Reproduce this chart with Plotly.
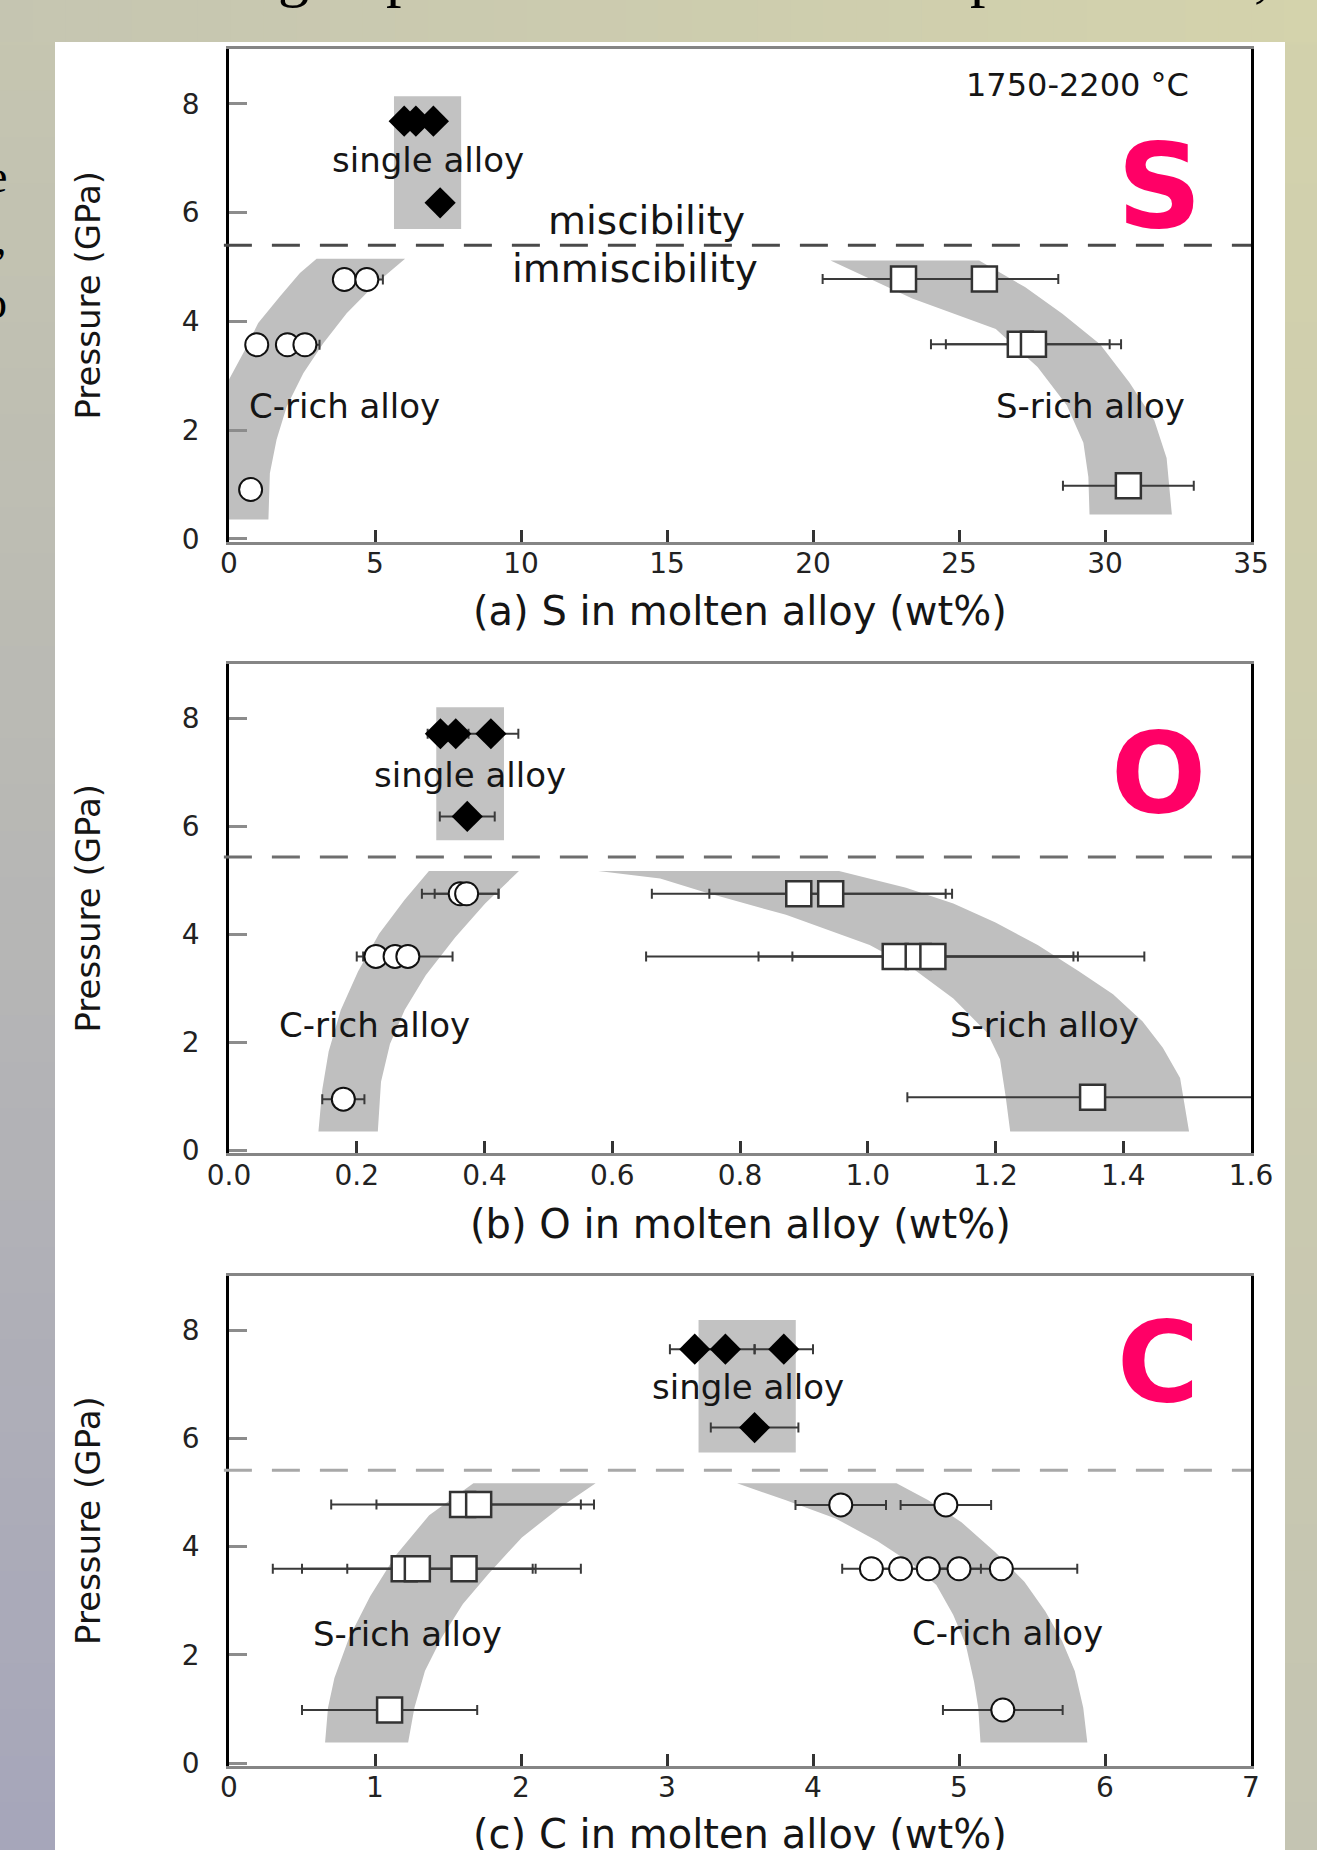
import plotly.graph_objects as go

W, H = 1317, 1850

# ------------------------------------------------------------------ data
# Panel (a): S in molten alloy
a_single_x = [6.0, 6.4, 7.0, 7.23]
a_single_y = [7.68, 7.68, 7.68, 6.18]
a_crich_x = [3.95, 4.72, 0.95, 2.0, 2.6, 0.74]
a_crich_y = [4.77, 4.77, 3.57, 3.57, 3.57, 0.91]
a_crich_err = [0.0, 0.55, 0.0, 0.0, 0.5, 0.0]
a_srich_x = [23.1, 25.87, 27.1, 27.55, 30.8]
a_srich_y = [4.78, 4.78, 3.58, 3.58, 0.98]
a_srich_err = [2.77, 2.53, 3.06, 3.0, 2.24]
a_rect_x = [5.65, 7.95]
a_rect_y = [5.70, 8.14]
a_band_c_left_x = [0.0, 0.0, 0.55, 1.0, 1.75, 2.43, 3.0]
a_band_c_left_y = [0.36, 2.93, 3.48, 3.97, 4.46, 4.89, 5.15]
a_band_c_right_x = [6.03, 5.06, 4.03, 3.23, 2.55, 1.98, 1.63, 1.40, 1.35]
a_band_c_right_y = [5.15, 4.71, 4.15, 3.6, 3.05, 2.44, 1.83, 1.21, 0.36]
a_band_s_left_x = [20.6, 23.4, 26.26, 27.69, 28.69, 29.26, 29.43, 29.47]
a_band_s_left_y = [5.12, 4.42, 3.86, 3.16, 2.46, 1.77, 1.14, 0.45]
a_band_s_right_x = [25.69, 27.26, 28.54, 29.83, 30.83, 31.69, 32.11, 32.29]
a_band_s_right_y = [5.12, 4.63, 4.14, 3.58, 2.88, 2.18, 1.49, 0.45]
a_boundary = 5.4

# Panel (b): O in molten alloy
b_single_x = [0.331, 0.355, 0.41, 0.373]
b_single_y = [7.71, 7.71, 7.71, 6.18]
b_single_err = [0.02, 0.02, 0.043, 0.043]
b_crich_x = [0.362, 0.372, 0.23, 0.26, 0.28, 0.179]
b_crich_y = [4.75, 4.75, 3.59, 3.59, 3.59, 0.95]
b_crich_err = [0.06, 0.05, 0.03, 0.02, 0.07, 0.033]
b_srich_x = [0.892, 0.942, 1.043, 1.079, 1.102, 1.352]
b_srich_y = [4.75, 4.75, 3.59, 3.59, 3.59, 0.985]
b_srich_err = [0.23, 0.19, 0.39, 0.25, 0.22, 0.29]
b_rect_x = [0.3245, 0.4305]
b_rect_y = [5.74, 8.2]
b_band_c_left_x = [0.313, 0.275, 0.235, 0.202, 0.175, 0.156, 0.146, 0.14]
b_band_c_left_y = [5.17, 4.64, 4.01, 3.31, 2.6, 1.83, 1.13, 0.35]
b_band_c_right_x = [0.233, 0.238, 0.252, 0.275, 0.308, 0.354, 0.401, 0.454]
b_band_c_right_y = [0.35, 1.27, 1.97, 2.6, 3.24, 3.94, 4.57, 5.17]
b_band_s_left_x = [0.578, 0.675, 0.741, 0.872, 1.003, 1.069, 1.134, 1.187, 1.207, 1.216, 1.223]
b_band_s_left_y = [5.17, 5.03, 4.79, 4.36, 3.8, 3.38, 2.81, 2.18, 1.69, 0.99, 0.35]
b_band_s_right_x = [1.503, 1.489, 1.462, 1.43, 1.384, 1.331, 1.266, 1.2, 1.134, 1.06, 0.955]
b_band_s_right_y = [0.35, 1.34, 1.9, 2.39, 2.89, 3.31, 3.8, 4.22, 4.57, 4.86, 5.17]
b_boundary = 5.43

# Panel (c): C in molten alloy
c_single_x = [3.19, 3.40, 3.80, 3.60]
c_single_y = [7.65, 7.65, 7.65, 6.2]
c_single_err = [0.17, 0.2, 0.2, 0.3]
c_srich_x = [1.6, 1.71, 1.2, 1.29, 1.61, 1.1]
c_srich_y = [4.78, 4.78, 3.59, 3.59, 3.59, 0.98]
c_srich_err = [0.9, 0.7, 0.9, 0.79, 0.8, 0.6]
c_crich_x = [4.19, 4.91, 4.40, 4.60, 4.79, 5.00, 5.29, 5.30]
c_crich_y = [4.77, 4.77, 3.59, 3.59, 3.59, 3.59, 3.59, 0.98]
c_crich_err = [0.31, 0.31, 0.2, 0.15, 0.15, 0.15, 0.52, 0.41]
c_rect_x = [3.216, 3.882]
c_rect_y = [5.74, 8.19]
c_band_s_left_x = [1.674, 1.371, 1.14, 0.967, 0.823, 0.722, 0.678, 0.658]
c_band_s_left_y = [5.17, 4.58, 3.83, 3.08, 2.32, 1.57, 1.02, 0.38]
c_band_s_right_x = [1.227, 1.27, 1.342, 1.457, 1.602, 1.775, 2.006, 2.265, 2.511]
c_band_s_right_y = [0.38, 1.02, 1.7, 2.32, 2.94, 3.49, 4.17, 4.72, 5.17]
c_band_c_left_x = [3.48, 3.81, 4.155, 4.443, 4.672, 4.845, 4.96, 5.046, 5.103, 5.132, 5.147]
c_band_c_left_y = [5.17, 4.86, 4.52, 4.1, 3.69, 3.29, 2.74, 2.19, 1.50, 1.02, 0.38]
c_band_c_right_x = [5.879, 5.851, 5.793, 5.707, 5.592, 5.448, 5.247, 5.017, 4.787, 4.572]
c_band_c_right_y = [0.38, 1.02, 1.7, 2.25, 2.8, 3.35, 3.9, 4.45, 4.86, 5.17]
c_boundary = 5.41

x_ranges = [[0, 35], [0, 1.6], [0, 7]]
x_dticks = [5, 0.2, 1]
x_formats = ["d", ".1f", "d"]
x_titles = ["(a) S in molten alloy (wt%)", "(b) O in molten alloy (wt%)", "(c) C in molten alloy (wt%)"]
y_title = "Pressure (GPa)"
y_range = [-0.05, 9]

# ------------------------------------------------------------------ style
BAND = "#bfbfbf"
SANS = "DejaVu Sans"
TXT = "#151515"
PINK = "#ff0066"

fig = go.Figure()


def band(xl, yl, xr, yr, xa, ya):
    fig.add_trace(go.Scatter(x=xl + xr, y=yl + yr, mode="lines", fill="toself",
                             fillcolor=BAND, line=dict(width=0), hoverinfo="skip",
                             showlegend=False, xaxis=xa, yaxis=ya))


def rect(xs, ys, xa, ya):
    fig.add_trace(go.Scatter(x=[xs[0], xs[1], xs[1], xs[0]], y=[ys[0], ys[0], ys[1], ys[1]],
                             mode="lines", fill="toself", fillcolor="#c2c2c2",
                             line=dict(width=0), hoverinfo="skip", showlegend=False,
                             xaxis=xa, yaxis=ya))


def pts(xs, ys, errs, kind, xa, ya):
    if kind == "diamond":
        mk = dict(symbol="diamond", size=24, color="black", line=dict(width=0))
    elif kind == "circle":
        mk = dict(symbol="circle", size=23, color="white", line=dict(color="#111", width=2))
    else:
        mk = dict(symbol="square", size=25, color="white", line=dict(color="#333", width=2.5))
    kw = {}
    if errs is not None:
        kw["error_x"] = dict(type="data", array=errs, color="#3a3a3a", thickness=2, width=5)
    fig.add_trace(go.Scatter(x=xs, y=ys, mode="markers", marker=mk, showlegend=False,
                             xaxis=xa, yaxis=ya, **kw))


# panel (a)
band(a_band_c_left_x, a_band_c_left_y, a_band_c_right_x, a_band_c_right_y, "x", "y")
band(a_band_s_left_x, a_band_s_left_y, a_band_s_right_x[::-1], a_band_s_right_y[::-1], "x", "y")
rect(a_rect_x, a_rect_y, "x", "y")
pts(a_crich_x, a_crich_y, a_crich_err, "circle", "x", "y")
pts(a_srich_x, a_srich_y, a_srich_err, "square", "x", "y")
pts(a_single_x, a_single_y, None, "diamond", "x", "y")

# panel (b)
band(b_band_c_left_x, b_band_c_left_y, b_band_c_right_x, b_band_c_right_y, "x2", "y2")
band(b_band_s_left_x, b_band_s_left_y, b_band_s_right_x, b_band_s_right_y, "x2", "y2")
rect(b_rect_x, b_rect_y, "x2", "y2")
pts(b_crich_x, b_crich_y, b_crich_err, "circle", "x2", "y2")
pts(b_srich_x, b_srich_y, b_srich_err, "square", "x2", "y2")
pts(b_single_x, b_single_y, b_single_err, "diamond", "x2", "y2")

# panel (c)
band(c_band_s_left_x, c_band_s_left_y, c_band_s_right_x, c_band_s_right_y, "x3", "y3")
band(c_band_c_left_x, c_band_c_left_y, c_band_c_right_x, c_band_c_right_y, "x3", "y3")
rect(c_rect_x, c_rect_y, "x3", "y3")
pts(c_srich_x, c_srich_y, c_srich_err, "square", "x3", "y3")
pts(c_crich_x, c_crich_y, c_crich_err, "circle", "x3", "y3")
pts(c_single_x, c_single_y, c_single_err, "diamond", "x3", "y3")

# ------------------------------------------------------------------ layout
x_dom = [229 / W, 1251 / W]
# pixel (from top) of the bottom and top of each plot frame
frames = [(541.7, 49.4), (1153.2, 664.0), (1765.7, 1276.1)]
title_px = [611, 1224, 1834]

layout = dict(width=W, height=H, margin=dict(l=0, r=0, t=0, b=0, pad=0), autosize=False,
              paper_bgcolor="#cdcdb0", plot_bgcolor="white", showlegend=False)

for i, (bot, top) in enumerate(frames):
    sfx = "" if i == 0 else str(i + 1)
    layout["xaxis" + sfx] = dict(
        domain=x_dom, range=x_ranges[i], dtick=x_dticks[i], tick0=0, tickformat=x_formats[i],
        anchor="y" + sfx, showgrid=False, zeroline=False, automargin=False,
        showline=True, linecolor="#858585", linewidth=3, mirror=True,
        ticks="inside", ticklen=12, tickwidth=2.5, tickcolor="#333",
        ticklabelstandoff=-5,
        tickfont=dict(family=SANS, size=28, color="#222"))
    layout["yaxis" + sfx] = dict(
        domain=[1 - bot / H, 1 - top / H], range=y_range, dtick=2, tick0=0,
        anchor="x" + sfx, showgrid=False, zeroline=False, automargin=False,
        showline=True, linecolor="black", linewidth=2.5, mirror=True,
        ticks="inside", ticklen=18, tickwidth=3, tickcolor="#8c8c8c",
        ticklabelstandoff=21,
        tickfont=dict(family=SANS, size=28, color="#222"))

fig.update_layout(**layout)

# ------------------------------------------------------------------ background shapes
shapes = []
# white slide panel
shapes.append(dict(type="rect", xref="paper", yref="paper", x0=55 / W, x1=1285 / W,
                   y0=0, y1=1 - 42 / H, fillcolor="white", line=dict(width=0), layer="below"))


def lerp(c0, c1, t):
    return "rgb(%d,%d,%d)" % tuple(round(a + (b - a) * t) for a, b in zip(c0, c1))


n = 40
for k in range(n):
    t = (k + 0.5) / n
    y0 = 1 - (k + 1) / n
    y1 = 1 - k / n
    shapes.append(dict(type="rect", xref="paper", yref="paper", x0=0, x1=55 / W, y0=y0, y1=y1 + 0.001,
                       fillcolor=lerp((198, 198, 176), (166, 166, 186), t), line=dict(width=0), layer="below"))
    shapes.append(dict(type="rect", xref="paper", yref="paper", x0=1285 / W, x1=1, y0=y0, y1=y1 + 0.001,
                       fillcolor=lerp((211, 210, 172), (196, 196, 178), t), line=dict(width=0), layer="below"))
for k in range(n):
    t = (k + 0.5) / n
    shapes.append(dict(type="rect", xref="paper", yref="paper", x0=k / n, x1=(k + 1) / n + 0.001,
                       y0=1 - 42 / H, y1=1, fillcolor=lerp((197, 197, 177), (212, 211, 172), t),
                       line=dict(width=0), layer="below"))

# miscibility boundaries (dashed)
for i, (yb, col) in enumerate([(a_boundary, "#4a4a4a"), (b_boundary, "#6e6e6e"), (c_boundary, "#a8a8a8")]):
    sfx = "" if i == 0 else str(i + 1)
    shapes.append(dict(type="line", xref="x" + sfx + " domain", yref="y" + sfx,
                       x0=-0.005, x1=1, y0=yb, y1=yb,
                       line=dict(color=col, width=3, dash="28px,20px")))

fig.update_layout(shapes=shapes)

# ------------------------------------------------------------------ annotations
ann = []


def label(text, x, y, xa, ya, size=34, color=TXT, weight="normal", family=SANS):
    ann.append(dict(text=text, x=x, y=y, xref=xa, yref=ya, showarrow=False,
                    xanchor="center", yanchor="middle",
                    font=dict(family=family, size=size, color=color, weight=weight)))


label("single alloy", 6.8, 6.97, "x", "y")
label("miscibility", 14.3, 5.86, "x", "y", size=39)
label("immiscibility", 13.9, 4.97, "x", "y", size=39)
label("C-rich alloy", 3.96, 2.45, "x", "y")
label("S-rich alloy", 29.5, 2.45, "x", "y")
label("1750-2200 °C", 29.06, 8.35, "x", "y", size=32)
label("S", 31.85, 6.48, "x", "y", size=118, color=PINK, weight="bold")

label("single alloy", 0.377, 6.95, "x2", "y2")
label("C-rich alloy", 0.227, 2.32, "x2", "y2")
label("S-rich alloy", 1.276, 2.32, "x2", "y2")
label("O", 1.455, 6.98, "x2", "y2", size=112, color=PINK, weight="bold")

label("single alloy", 3.557, 6.95, "x3", "y3")
label("S-rich alloy", 1.22, 2.38, "x3", "y3")
label("C-rich alloy", 5.33, 2.4, "x3", "y3")
label("C", 6.36, 7.42, "x3", "y3", size=112, color=PINK, weight="bold")

# axis titles
for i, (bot, top) in enumerate(frames):
    ann.append(dict(text=x_titles[i], x=(x_dom[0] + x_dom[1]) / 2, y=1 - title_px[i] / H,
                    xref="paper", yref="paper", showarrow=False, xanchor="center", yanchor="middle",
                    font=dict(family=SANS, size=40, color=TXT)))
    ann.append(dict(text=y_title, x=88 / W, y=1 - (bot + top) / 2 / H, textangle=-90,
                    xref="paper", yref="paper", showarrow=False, xanchor="center", yanchor="middle",
                    font=dict(family=SANS, size=34, color=TXT)))

# slide title glyphs cut off at the top edge
for ch, px in [("g", 276), ("p", 384), ("p", 968), (",", 1252)]:
    ann.append(dict(text=ch, x=px / W, y=1 - 10 / H, xref="paper", yref="paper", showarrow=False,
                    xanchor="left", yanchor="bottom",
                    font=dict(family="Liberation Serif", size=62, color="black")))

# side text cut off at the left edge
for ch, py in [("e", 176), (",", 238), ("o", 302)]:
    ann.append(dict(text=ch, x=9 / W, y=1 - py / H, xref="paper", yref="paper", showarrow=False,
                    xanchor="right", yanchor="middle",
                    font=dict(family="Liberation Serif", size=46, color="black")))

fig.update_layout(annotations=ann)

fig.write_html("out.html",
               config={"displayModeBar": False},
               post_script="document.body.style.margin='0px';"
                           "document.documentElement.style.overflow='hidden';"
                           "document.body.style.overflow='hidden';")
